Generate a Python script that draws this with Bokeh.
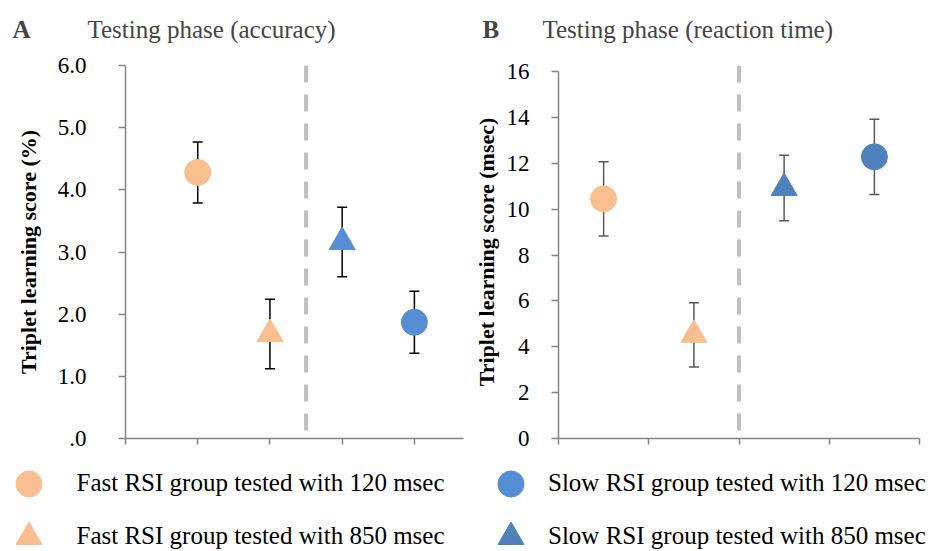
from bokeh.plotting import figure
from bokeh.layouts import row, column
from bokeh.models import (Range1d, FixedTicker, Span, Whisker, TeeHead,
                          ColumnDataSource, Label, Legend, LegendItem)
from bokeh.embed import file_html
from bokeh.resources import INLINE

# ---------------- data ----------------
groups = ["Fast RSI group tested with 120 msec",
          "Fast RSI group tested with 850 msec",
          "Slow RSI group tested with 850 msec",
          "Slow RSI group tested with 120 msec"]
group_markers = ["circle", "triangle", "triangle", "circle"]

# Panel A: accuracy (%)
acc_x = [1, 2, 3, 4]
acc_mean = [4.28, 1.68, 3.16, 1.87]
acc_err = [0.49, 0.56, 0.56, 0.50]
acc_yticks = [0, 1, 2, 3, 4, 5, 6]
acc_ylabels = [".0", "1.0", "2.0", "3.0", "4.0", "5.0", "6.0"]
acc_xticks = [0, 1, 2, 3, 4]

# Panel B: reaction time (msec)
rt_x = [0.5, 1.5, 2.5, 3.5]
rt_mean = [10.45, 4.52, 10.92, 12.28]
rt_err = [1.62, 1.40, 1.43, 1.64]
rt_yticks = [0, 2, 4, 6, 8, 10, 12, 14, 16]
rt_ylabels = ["0", "2", "4", "6", "8", "10", "12", "14", "16"]
rt_xticks = [0, 1, 2, 3, 4]

panel_letters = ["A", "B"]
panel_titles = ["Testing phase (accuracy)", "Testing phase (reaction time)"]

FONT = "Liberation Serif"
ORANGE = "#F9BF8F"
BLUE_A = "#558ED5"
BLUE_B = "#4F81BD"
AXIS = "#868686"

W = 930
TOP_H = 45
ROW_H = 410
LEG_H = 96


def panel(x, mean, err, colors, err_color, xmax, ymax, ybound, yticks, ylabels, xticks,
          ylabel, width, mb_left, mb_right, lab_standoff, ax_standoff):
    p = figure(width=width, height=ROW_H, x_range=Range1d(0, xmax), y_range=Range1d(0, ymax),
               output_backend="svg", toolbar_location=None,
               min_border_left=mb_left, min_border_right=mb_right,
               min_border_top=20, min_border_bottom=17)
    p.grid.visible = False
    p.outline_line_color = None

    src = ColumnDataSource(dict(
        x=x, y=mean,
        upper=[m + e for m, e in zip(mean, err)],
        lower=[m - e for m, e in zip(mean, err)],
        marker=group_markers, color=colors))

    # divider between fast and slow groups
    p.add_layout(Span(location=(x[1] + x[2]) / 2, dimension="height",
                      line_color="#C0C0C0", line_width=4, line_dash="17 12"))

    w = Whisker(base="x", upper="upper", lower="lower", source=src, dimension="height",
                line_color=err_color, line_width=1.5, level="underlay",
                upper_head=TeeHead(size=10, line_color=err_color, line_width=1.5),
                lower_head=TeeHead(size=10, line_color=err_color, line_width=1.5))
    p.add_layout(w)
    p.scatter("x", "y", source=src, marker="marker", size=26,
              fill_color="color", line_color="color")

    # x axis
    xa = p.xaxis[0]
    xa.ticker = FixedTicker(ticks=xticks)
    xa.major_label_overrides = {t: "" for t in xticks}
    xa.major_label_text_font_size = "1px"
    xa.major_label_standoff = 0
    xa.minor_tick_line_color = None
    xa.major_tick_in = 0
    xa.major_tick_out = 6
    xa.axis_line_color = AXIS
    xa.major_tick_line_color = AXIS
    xa.axis_line_width = 1.5
    xa.major_tick_line_width = 1.5

    # y axis
    ya = p.yaxis[0]
    ya.ticker = FixedTicker(ticks=yticks)
    ya.bounds = (0, ybound)
    ya.major_label_overrides = {t: l for t, l in zip(yticks, ylabels)}
    ya.major_label_text_font = FONT
    ya.major_label_text_font_size = "23px"
    ya.major_label_text_color = "black"
    ya.major_label_standoff = lab_standoff
    ya.minor_tick_line_color = None
    ya.major_tick_in = 0
    ya.major_tick_out = 7
    ya.axis_line_color = AXIS
    ya.major_tick_line_color = AXIS
    ya.axis_line_width = 1.5
    ya.major_tick_line_width = 1.5
    ya.axis_label = ylabel
    ya.axis_label_text_font = FONT
    ya.axis_label_text_font_style = "bold"
    ya.axis_label_text_font_size = "22px"
    ya.axis_label_text_color = "black"
    ya.axis_label_standoff = ax_standoff
    return p


pA = panel(acc_x, acc_mean, acc_err, [ORANGE, ORANGE, BLUE_A, BLUE_A], "#000000",
           4.68, 6, 6, acc_yticks, acc_ylabels, acc_xticks,
           "Triplet learning score (%)", 466, 125, 3, 32, 14)
# frame top sits a few px above the 16 tick in the reference
pB = panel(rt_x, rt_mean, rt_err, [ORANGE, ORANGE, BLUE_B, BLUE_B], "#595959",
           4, 16 * 373 / 367, 16, rt_yticks, rt_ylabels, rt_xticks,
           "Triplet learning score (msec)", 464, 92, 11, 22, 5)

# ---------------- panel headings ----------------
pT = figure(width=W, height=TOP_H, x_range=Range1d(0, W), y_range=Range1d(0, TOP_H),
            output_backend="svg", toolbar_location=None, min_border=0,
            x_axis_type=None, y_axis_type=None)
pT.grid.visible = False
pT.outline_line_color = None
for lx, tx, letter, title in zip([12, 482], [87, 542], panel_letters, panel_titles):
    pT.add_layout(Label(x=lx, y=16.5, text=letter, text_font=FONT, text_font_style="bold",
                        text_font_size="25px", text_baseline="alphabetic"))
    pT.add_layout(Label(x=tx, y=16.5, text=title, text_font=FONT,
                        text_font_size="25px", text_baseline="alphabetic"))

# ---------------- legend ----------------
pL = figure(width=W, height=LEG_H, x_range=Range1d(0, W), y_range=Range1d(0, LEG_H),
            output_backend="svg", toolbar_location=None, min_border=0,
            x_axis_type=None, y_axis_type=None)
pL.grid.visible = False
pL.outline_line_color = None

leg_colors = [ORANGE, ORANGE, BLUE_B, BLUE_A]
rends = []
for m, c in zip(group_markers, leg_colors):
    rends.append(pL.scatter(x=[-1000], y=[-1000], marker=m, size=26,
                            fill_color=c, line_color=c))

# (group index, legend box position, label standoff)
leg_slots = [(0, (-4.5, 35.5), 16), (1, (-4.5, -17.5), 16),
             (3, (478, 35.5), 5), (2, (478, -17.5), 5)]
for i, loc, so in leg_slots:
    pL.add_layout(Legend(items=[LegendItem(label=groups[i], renderers=[rends[i]])],
                         location=loc, orientation="vertical",
                         glyph_width=65, glyph_height=65, spacing=0, padding=0, margin=0,
                         label_standoff=so, label_text_font=FONT,
                         label_text_font_size="25px", label_text_color="black",
                         border_line_color=None, background_fill_alpha=0))

layout = column(pT, row(pA, pB), pL)
open("out.html", "w").write(file_html(layout, INLINE))
